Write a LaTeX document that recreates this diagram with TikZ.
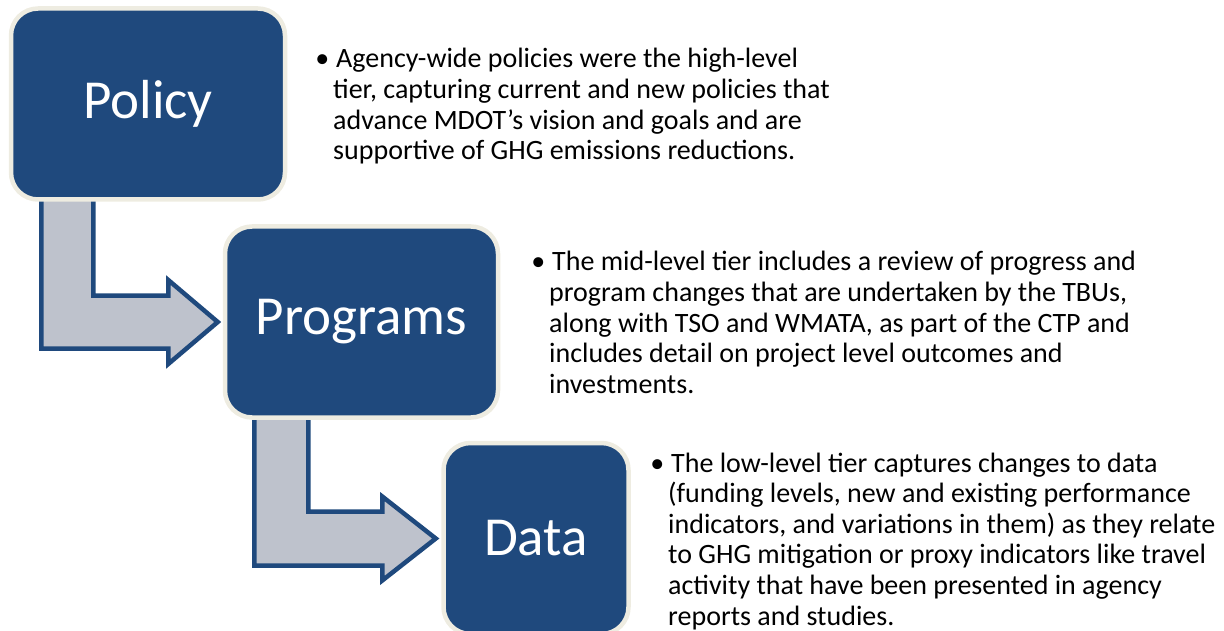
\documentclass[tikz,border=0pt]{standalone}
\usepackage{fontspec}
\setmainfont{Carlito}
\usetikzlibrary{calc,backgrounds}
\definecolor{tierblue}{RGB}{31,73,125}
\definecolor{tiercream}{RGB}{238,236,225}
\definecolor{arrowgray}{RGB}{190,194,204}
\newcommand{\tierbullet}{\leavevmode\llap{•\hspace{4pt}}\hspace{3pt}}
\tikzset{
  tierbox/.style={draw=tiercream, fill=tierblue, line width=4.5pt, rounded corners=27pt,
    text=white, font=\fontsize{55}{60}\selectfont, inner sep=0pt},
  blockarrow/.style={draw=tierblue, fill=arrowgray, line width=4.5pt, line join=miter, miter limit=10},
  desc/.style={anchor=base west, inner sep=0pt, text=black, font=\fontsize{28}{30.6}\selectfont}
}
\begin{document}
\begin{tikzpicture}[x=1pt,y=-1pt]
\useasboundingbox (0,0) rectangle (1224,631);
\node[tierbox, minimum width=274pt, minimum height=191pt] (policy) at (148,104) {Policy};
\node[tierbox, minimum width=273pt, minimum height=191pt] (programs) at (361.5,322) {Programs};
\node[tierbox, minimum width=185pt, minimum height=191pt] (data) at (536,538.5) {Data};

\coordinate (s1) at ($(policy.south west)+(32.5,-8)$);
\coordinate (t1) at ($(programs.west)+(-5,0)$);
\coordinate (s2) at ($(programs.south west)+(31.5,-8)$);
\coordinate (t2) at ($(data.west)+(-5.5,0)$);
\begin{pgfonlayer}{background}
\draw[blockarrow] (s1) |- ($(t1)+(-49.5,26.5)$) -- ++(0,15.5) -- (t1)
  -- ($(t1)+(-49.5,-42)$) -- ++(0,15.5) -| ($(s1)+(52,0)$) -- cycle;
\draw[blockarrow] (s2) |- ($(t2)+(-53.5,27)$) -- ++(0,15) -- (t2)
  -- ($(t2)+(-53.5,-42)$) -- ++(0,15) -| ($(s2)+(54,0)$) -- cycle;
\end{pgfonlayer}

\node[desc] (d1) at (333,68) {\parbox[t]{600pt}{\tierbullet Agency-wide policies were the high-level\\
tier, capturing current and new policies that\\
advance MDOT’s vision and goals and are\\
supportive of GHG emissions reductions.}};
\node[desc] (d2) at (549,271) {\parbox[t]{650pt}{\tierbullet The mid-level tier includes a review of progress and\\
program changes that are undertaken by the TBUs,\\
along with TSO and WMATA, as part of the CTP and\\
includes detail on project level outcomes and\\
investments.}};
\node[desc] (d3) at (668,472) {\parbox[t]{560pt}{\tierbullet The low-level tier captures changes to data\\
(funding levels, new and existing performance\\
indicators, and variations in them) as they relate\\
to GHG mitigation or proxy indicators like travel\\
activity that have been presented in agency\\
reports and studies.}};
\end{tikzpicture}
\end{document}
